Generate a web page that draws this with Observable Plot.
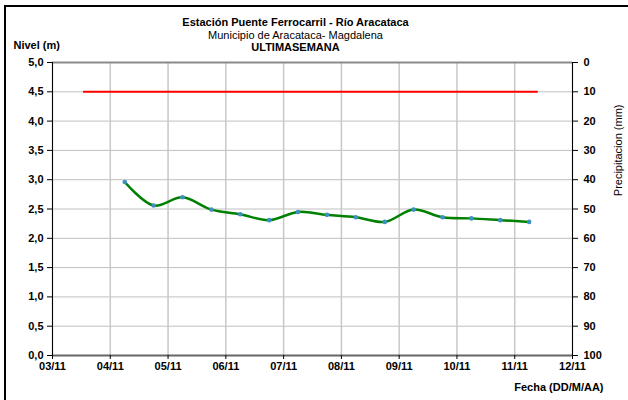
<!DOCTYPE html>
<html>
<head>
<meta charset="utf-8">
<script src="https://cdn.jsdelivr.net/npm/d3@7"></script>
<script src="https://cdn.jsdelivr.net/npm/@observablehq/plot@0.6"></script>
<style>
  html, body { margin: 0; padding: 0; background: white; overflow: hidden; }
  #wrap { position: relative; width: 628px; height: 400px; overflow: hidden; }
  #border { position: absolute; left: 4px; top: 5px; width: 700px; height: 500px;
            border-left: 2px solid #000; border-top: 2px solid #000; pointer-events: none; }
</style>
</head>
<body>
<div id="wrap"><div id="border"></div></div>
<script>
// ---- data ----
const titleLines = ["Estación Puente Ferrocarril - Río Aracataca", "Municipio de Aracataca- Magdalena", "ULTIMASEMANA"];
const levelDates = [
  "2024-11-04T06:00", "2024-11-04T18:00", "2024-11-05T06:00", "2024-11-05T18:00",
  "2024-11-06T06:00", "2024-11-06T18:00", "2024-11-07T06:00", "2024-11-07T18:00",
  "2024-11-08T06:00", "2024-11-08T18:00", "2024-11-09T06:00", "2024-11-09T18:00",
  "2024-11-10T06:00", "2024-11-10T18:00", "2024-11-11T06:00"
];
const levelValues = [2.96, 2.56, 2.70, 2.49, 2.41, 2.31, 2.45, 2.40, 2.36, 2.28, 2.49, 2.36, 2.34, 2.31, 2.28];
const thresholdDates = ["2024-11-03T13:00", "2024-11-11T09:15"];
const thresholdValue = 4.5;
const dayTickDates = ["2024-11-03", "2024-11-04", "2024-11-05", "2024-11-06", "2024-11-07",
                      "2024-11-08", "2024-11-09", "2024-11-10", "2024-11-11", "2024-11-12"];
const levelTicks = [0, 0.5, 1, 1.5, 2, 2.5, 3, 3.5, 4, 4.5, 5];
const precipTicks = [0, 10, 20, 30, 40, 50, 60, 70, 80, 90, 100];
const precipMax = 100;

// ---- build ----
const parse = s => new Date(s + (s.length === 10 ? "T00:00Z" : "Z"));
const days = dayTickDates.map(parse);
const series = levelDates.map((d, i) => ({date: parse(d), value: levelValues[i]}));
const threshold = thresholdDates.map(d => ({date: parse(d), value: thresholdValue}));
const yMax = levelTicks[levelTicks.length - 1];
const precipToY = p => yMax - p * yMax / precipMax;
const precipY = precipTicks.map(precipToY);
const fmtDay = d3.utcFormat("%d/%m");
const fmtLevel = d => d.toFixed(1).replace(".", ",");
const font = "'Liberation Sans', Arial, sans-serif";
const blank = () => "";

const chart = Plot.plot({
  width: 628,
  height: 400,
  marginLeft: 52,
  marginRight: 56,
  marginTop: 62,
  marginBottom: 45,
  style: {fontFamily: font, fontSize: "11px", background: "white", color: "black"},
  x: {type: "utc", domain: [days[0], days[days.length - 1]]},
  y: {domain: [0, yMax]},
  marks: [
    Plot.gridY(levelTicks, {stroke: "#c0c0c0", strokeOpacity: 1}),
    Plot.gridX(days, {stroke: "#c8c8c8", strokeOpacity: 1, strokeWidth: 1.5}),
    Plot.ruleY([yMax], {stroke: "#8a8a8a", strokeWidth: 2}),
    Plot.ruleY([0], {stroke: "#666", strokeWidth: 2}),
    Plot.ruleX([days[0], days[days.length - 1]], {stroke: "black", strokeWidth: 1}),
    Plot.line(threshold, {x: "date", y: "value", stroke: "#ff0000", strokeWidth: 2}),
    Plot.line(series, {x: "date", y: "value", stroke: "#008000", strokeWidth: 2.5, curve: "catmull-rom"}),
    Plot.dot(series, {x: "date", y: "value", r: 2.3, fill: "#3d8fc4", stroke: "none"}),
    Plot.axisY(levelTicks, {anchor: "left", tickSize: 5, tickFormat: blank, label: null, stroke: "black"}),
    Plot.axisY(precipY, {anchor: "right", tickSize: 5, tickFormat: blank, label: null, stroke: "black"}),
    Plot.axisX(days, {anchor: "bottom", tickSize: 4, tickFormat: blank, label: null, stroke: "black"}),
    Plot.text(levelTicks, {y: d => d, text: fmtLevel, frameAnchor: "left", dx: -9, textAnchor: "end",
      fontWeight: "bold", fontSize: 11}),
    Plot.text(precipY, {y: d => d, text: (d, i) => String(precipTicks[i]), frameAnchor: "right", dx: 11,
      textAnchor: "start", fontWeight: "bold", fontSize: 11}),
    Plot.text(days, {x: d => d, text: fmtDay, frameAnchor: "bottom", dy: 7, lineAnchor: "top",
      fontWeight: "bold", fontSize: 11}),
    Plot.text([titleLines[0]], {frameAnchor: "top", dx: -17, dy: -44, fontWeight: "bold", fontSize: 11}),
    Plot.text([titleLines[1]], {frameAnchor: "top", dx: -17, dy: -31, fontSize: 11}),
    Plot.text([titleLines[2]], {frameAnchor: "top", dx: -17, dy: -19, fontWeight: "bold", fontSize: 11}),
    Plot.text(["Nivel (m)"], {frameAnchor: "top-left", dx: -39, dy: -21, textAnchor: "start", fontWeight: "bold", fontSize: 11}),
    Plot.text(["Precipitacion (mm)"], {frameAnchor: "top-right", dx: 42, dy: 42, rotate: -90, fontSize: 11}),
    Plot.text(["Fecha (DD/M/AA)"], {frameAnchor: "bottom-right", dx: 31, dy: 35, textAnchor: "end", fontWeight: "bold", fontSize: 11})
  ]
});
document.getElementById("wrap").prepend(chart);
</script>
</body>
</html>
